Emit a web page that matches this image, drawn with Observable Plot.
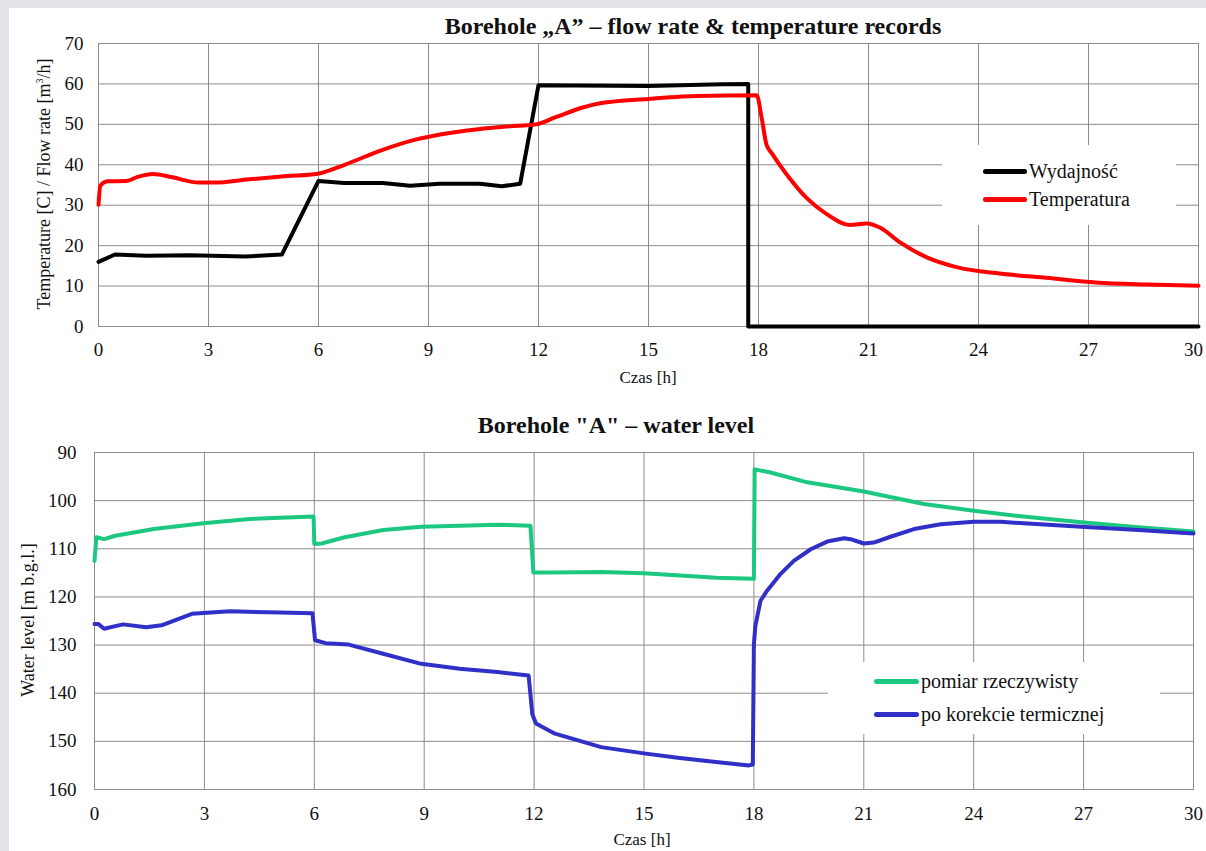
<!DOCTYPE html>
<html>
<head>
<meta charset="utf-8">
<script src="https://cdn.jsdelivr.net/npm/d3@7"></script>
<script src="https://cdn.jsdelivr.net/npm/@observablehq/plot@0.6"></script>
<style>
  html, body { margin: 0; padding: 0; }
  body { width: 1206px; height: 851px; background: #e4e4e8; overflow: hidden; font-family: "Liberation Serif", "Tinos", "Times New Roman", "DejaVu Serif", serif; color: #111; }
  #panel { position: absolute; left: 9px; top: 8px; width: 1197px; height: 843px; background: #ffffff; }
  .chart { position: absolute; left: 0; }
  .title { position: absolute; font-weight: bold; font-size: 24px; white-space: nowrap; transform: translate(-50%, -50%); }
  .xlab { position: absolute; font-size: 17px; white-space: nowrap; transform: translate(-50%, -50%); }
  .ylab { position: absolute; font-size: 18px; white-space: nowrap; transform: translate(-50%, -50%) rotate(-90deg); }
  .legend { position: absolute; background: #fff; }
  .lg-item { position: absolute; font-size: 20px; white-space: nowrap; display: flex; align-items: center; }
  .lg-line { display: inline-block; height: 5px; border-radius: 3px; margin-right: 2px; }
</style>
</head>
<body>
<div id="panel"></div>
<div id="top" class="chart" style="top:0px"></div>
<div id="bottom" class="chart" style="top:400px"></div>

<div class="title" style="left:693px; top:26px">Borehole „A” – flow rate &amp; temperature records</div>
<div class="ylab" style="left:44px; top:184px">Temperature [C] / Flow rate [m<sup style="font-size:10px">3</sup>/h]</div>
<div class="xlab" style="left:648px; top:378px">Czas [h]</div>

<div class="title" style="left:616px; top:425px">Borehole "A" – water level</div>
<div class="ylab" style="left:28px; top:620px">Water level [m b.g.l.]</div>
<div class="xlab" style="left:642px; top:840px">Czas [h]</div>

<div class="legend" style="left:942px; top:145px; width:234px; height:80px"></div>
<div class="lg-item" style="left:983px; top:160px"><span class="lg-line" style="width:44px;background:#000"></span>Wydajność</div>
<div class="lg-item" style="left:983px; top:188px"><span class="lg-line" style="width:44px;background:#ff0000"></span>Temperatura</div>

<div class="legend" style="left:828px; top:662px; width:332px; height:72px"></div>
<div class="lg-item" style="left:874px; top:670px"><span class="lg-line" style="width:45px;background:#1cc880"></span>pomiar rzeczywisty</div>
<div class="lg-item" style="left:874px; top:703px"><span class="lg-line" style="width:45px;background:#3030c8"></span>po korekcie termicznej</div>

<script>
// ---- tick labels ----
const xTicks = [0, 3, 6, 9, 12, 15, 18, 21, 24, 27, 30];
const yTicksTop = [0, 10, 20, 30, 40, 50, 60, 70];
const yTicksBottom = [90, 100, 110, 120, 130, 140, 150, 160];

// ---- Wydajność (flow rate, m3/h) ----
const flowT = [0, 0.45, 1.3, 2.5, 4.0, 5.0, 6.0, 6.7, 7.75, 8.5, 9.3, 10.4, 11.0, 11.5, 12.0, 15.0, 17.0, 17.72, 17.72, 30];
const flowV = [16.0, 17.8, 17.5, 17.6, 17.3, 17.8, 36.0, 35.5, 35.5, 34.8, 35.3, 35.3, 34.7, 35.3, 59.7, 59.5, 59.9, 60.0, 0, 0];

// ---- Temperatura (C) ----
const tempT = [0, 0.05, 0.24, 0.76, 1.07, 1.49, 2.01, 2.74, 3.16, 4.1, 5.14, 5.98, 6.71, 7.75, 8.59, 9.32, 10.36, 11.2, 11.93, 12.45, 13.18, 13.68, 15.0, 16.31, 17.95, 18.09, 18.22, 18.36, 18.77, 19.31, 19.86, 20.49, 20.95, 21.31, 21.86, 22.59, 23.4, 24.58, 25.92, 27.2, 28.59, 30];
const tempV = [30.1, 34.8, 35.9, 36.0, 37.0, 37.7, 36.9, 35.6, 35.6, 36.4, 37.2, 37.8, 40.0, 43.7, 46.1, 47.5, 48.8, 49.5, 50.0, 51.7, 54.1, 55.2, 56.3, 57.0, 57.2, 51.4, 44.9, 42.9, 37.6, 31.8, 27.8, 25.1, 25.5, 24.5, 20.8, 17.1, 14.7, 13.1, 12.0, 10.9, 10.4, 10.1];

// ---- pomiar rzeczywisty (m b.g.l.) ----
const measT = [0, 0.05, 0.26, 0.57, 1.62, 2.97, 4.23, 5.98, 6.0, 6.2, 6.83, 7.88, 8.92, 9.97, 11.0, 11.9, 11.98, 12.57, 13.83, 15.0, 16.97, 18.0, 18.02, 18.45, 19.46, 21.0, 22.64, 24.0, 25.36, 26.94, 28.5, 30];
const measV = [112.5, 107.6, 108.0, 107.3, 105.9, 104.7, 103.8, 103.3, 109.0, 108.9, 107.6, 106.1, 105.4, 105.2, 105.0, 105.2, 114.9, 114.9, 114.8, 115.1, 116.0, 116.2, 93.5, 94.15, 96.2, 98.1, 100.7, 102.1, 103.3, 104.5, 105.5, 106.4];

// ---- po korekcie termicznej (m b.g.l.) ----
const corrT = [0, 0.1, 0.26, 0.78, 1.41, 1.83, 2.66, 3.7, 4.75, 5.95, 6.02, 6.31, 6.94, 7.88, 8.92, 9.97, 11.0, 11.85, 11.95, 12.05, 12.57, 13.83, 15.0, 15.92, 16.97, 17.86, 17.97, 18.0, 18.04, 18.18, 18.36, 18.73, 19.09, 19.55, 20.0, 20.46, 20.64, 21.0, 21.27, 21.73, 22.37, 23.1, 24.0, 24.73, 25.36, 26.94, 28.5, 30];
const corrV = [125.6, 125.6, 126.6, 125.7, 126.3, 125.9, 123.5, 123.0, 123.2, 123.4, 129.0, 129.6, 129.9, 131.8, 133.9, 134.9, 135.6, 136.3, 144.3, 146.3, 148.4, 151.2, 152.5, 153.4, 154.3, 155.0, 154.8, 129.8, 126.0, 120.8, 118.7, 115.2, 112.5, 110.1, 108.5, 107.8, 108.0, 108.9, 108.7, 107.5, 105.9, 104.9, 104.4, 104.4, 104.7, 105.4, 106.1, 106.8];

const zip = (ts, vs) => ts.map((t, i) => ({t, v: vs[i]}));
const gridColor = "#8c8c8c";
const fontFam = "'Liberation Serif', Tinos, 'Times New Roman', 'DejaVu Serif', serif";
const xInner = xTicks.slice(0, -1);
const xLast = xTicks.slice(-1);

const topChart = Plot.plot({
  width: 1206, height: 390,
  marginLeft: 98, marginRight: 8, marginTop: 43, marginBottom: 64,
  style: {background: "transparent", fontFamily: fontFam, fontSize: "19px", color: "#111"},
  x: {domain: [0, 30]},
  y: {domain: [0, 70]},
  marks: [
    Plot.gridX(xTicks, {stroke: gridColor, strokeOpacity: 1}),
    Plot.gridY(yTicksTop, {stroke: gridColor, strokeOpacity: 1}),
    Plot.frame({stroke: gridColor}),
    Plot.axisX(xInner, {tickSize: 0, tickPadding: 16, label: null, fontSize: 19, fontFamily: fontFam}),
    Plot.axisX(xLast, {tickSize: 0, tickPadding: 16, label: null, fontSize: 19, fontFamily: fontFam, dx: -5}),
    Plot.axisY(yTicksTop, {tickSize: 0, tickPadding: 15, label: null, fontSize: 19, fontFamily: fontFam}),
    Plot.line(zip(flowT, flowV), {x: "t", y: "v", stroke: "#000", strokeWidth: 4}),
    Plot.line(zip(tempT, tempV), {x: "t", y: "v", stroke: "#ff0000", strokeWidth: 4, curve: "monotone-x"})
  ]
});
document.getElementById("top").appendChild(topChart);

const bottomChart = Plot.plot({
  width: 1206, height: 451,
  marginLeft: 94, marginRight: 13, marginTop: 52, marginBottom: 62,
  style: {background: "transparent", fontFamily: fontFam, fontSize: "19px", color: "#111"},
  x: {domain: [0, 30]},
  y: {domain: [90, 160], reverse: true},
  marks: [
    Plot.gridX(xTicks, {stroke: gridColor, strokeOpacity: 1}),
    Plot.gridY(yTicksBottom, {stroke: gridColor, strokeOpacity: 1}),
    Plot.frame({stroke: gridColor}),
    Plot.axisX(xTicks, {tickSize: 0, tickPadding: 17, label: null, fontSize: 19, fontFamily: fontFam}),
    Plot.axisY(yTicksBottom, {tickSize: 0, tickPadding: 18, label: null, fontSize: 19, fontFamily: fontFam}),
    Plot.line(zip(measT, measV), {x: "t", y: "v", stroke: "#1cc880", strokeWidth: 4}),
    Plot.line(zip(corrT, corrV), {x: "t", y: "v", stroke: "#3030c8", strokeWidth: 4})
  ]
});
document.getElementById("bottom").appendChild(bottomChart);
</script>
</body>
</html>
